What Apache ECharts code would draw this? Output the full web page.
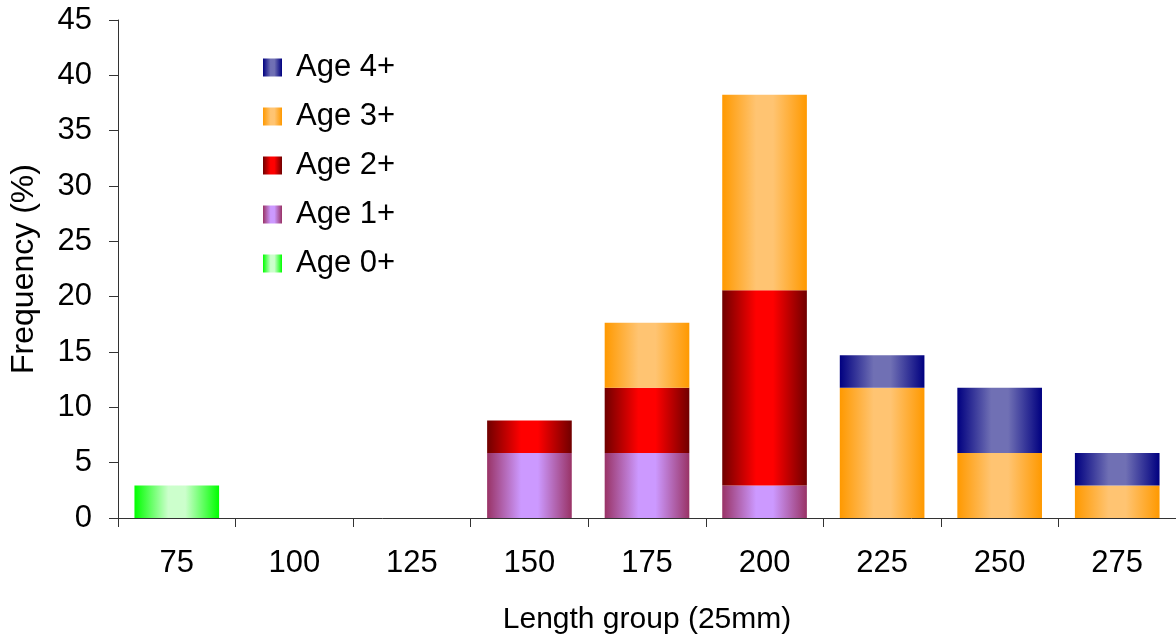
<!DOCTYPE html>
<html><head><meta charset="utf-8">
<script src="https://cdn.jsdelivr.net/npm/echarts@6/dist/echarts.min.js"></script>
<style>html,body{margin:0;padding:0;background:#fff}#c{width:1176px;height:640px}</style>
</head><body><div id="c"></div>
<script>
const categories = ['75','100','125','150','175','200','225','250','275'];
const age0 = [2.94, null, null, null, null, null, null, null, null];
const age1 = [null, null, null, 5.88, 5.88, 2.94, null, null, null];
const age2 = [null, null, null, 2.94, 5.88, 17.65, null, null, null];
const age3 = [null, null, null, null, 5.88, 17.65, 11.76, 5.88, 2.94];
const age4 = [null, null, null, null, null, null, 2.94, 5.88, 2.94];
const seriesNames = ['Age 0+','Age 1+','Age 2+','Age 3+','Age 4+'];
const legendOrder = ['Age 4+','Age 3+','Age 2+','Age 1+','Age 0+'];
const yTicks = {min:0, max:45, interval:5};

function grad(edge, center){
  return new echarts.graphic.LinearGradient(0,0,1,0,[
    {offset:0,color:edge},{offset:0.4,color:center},{offset:0.6,color:center},{offset:1,color:edge}]);
}
const colors = [grad('#00ff00','#ccffcc'), grad('#993366','#cc99ff'), grad('#700000','#ff0000'), grad('#ff9900','#ffc472'), grad('#000080','#7070b4')];
const datas = [age0, age1, age2, age3, age4];
const font = 'Liberation Sans, Arial, sans-serif';

const chart = echarts.init(document.getElementById('c'));
chart.setOption({
  animation:false,
  backgroundColor:'#fff',
  grid:{left:118, right:0, top:20, bottom:120},
  legend:{
    data:legendOrder, orient:'vertical', left:258, top:47, icon:'rect',
    itemWidth:19, itemHeight:18, itemGap:18,
    textStyle:{fontFamily:font, fontSize:31, color:'#000', lineHeight:30, padding:[0,0,0,9]}
  },
  xAxis:{
    type:'category', data:categories,
    name:'Length group (25mm)', nameLocation:'middle', nameGap:87,
    nameTextStyle:{fontFamily:font, fontSize:30, color:'#000'},
    axisLine:{lineStyle:{color:'#333', width:1}},
    axisTick:{show:true, length:9, lineStyle:{color:'#333'}},
    axisLabel:{fontFamily:font, fontSize:31, color:'#000', margin:30}
  },
  yAxis:{
    type:'value', min:yTicks.min, max:yTicks.max, interval:yTicks.interval,
    name:'Frequency (%)', nameLocation:'middle', nameGap:78,
    nameTextStyle:{fontFamily:font, fontSize:32, color:'#000'},
    axisLine:{show:true, lineStyle:{color:'#333', width:1}},
    axisTick:{show:true, length:9, lineStyle:{color:'#333'}},
    splitLine:{show:false},
    axisLabel:{fontFamily:font, fontSize:31, color:'#000', margin:26}
  },
  series: seriesNames.map((n,i)=>({
    name:n, type:'bar', stack:'a', data:datas[i], barWidth:'72%',
    itemStyle:{color:colors[i]}
  }))
});
</script></body></html>
